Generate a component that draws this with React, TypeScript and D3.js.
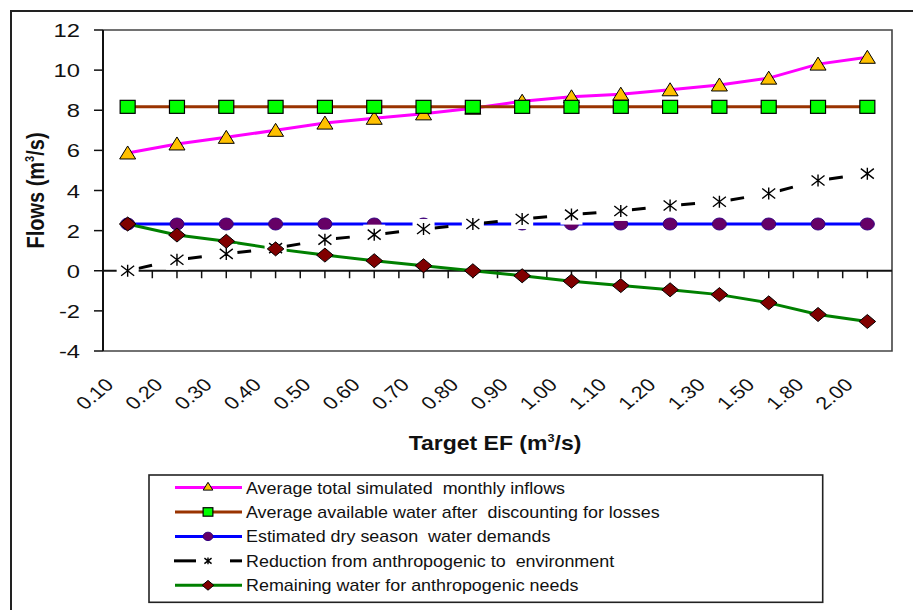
import React from "react";
import * as d3 from "d3";

const categories = ["0.10","0.20","0.30","0.40","0.50","0.60","0.70","0.80","0.90","1.00","1.10","1.20","1.30","1.50","1.80","2.00"];
const inflows = [5.87, 6.32, 6.65, 7.0, 7.36, 7.6, 7.82, 8.1, 8.45, 8.67, 8.8, 9.02, 9.26, 9.6, 10.3, 10.64];
const available = [8.17, 8.17, 8.17, 8.17, 8.17, 8.17, 8.17, 8.17, 8.17, 8.17, 8.17, 8.17, 8.17, 8.17, 8.17, 8.17];
const demands = [2.33, 2.33, 2.33, 2.33, 2.33, 2.33, 2.33, 2.33, 2.33, 2.33, 2.33, 2.33, 2.33, 2.33, 2.33, 2.33];
const reduction = [0, 0.55, 0.84, 1.13, 1.55, 1.8, 2.08, 2.33, 2.58, 2.8, 2.98, 3.25, 3.44, 3.85, 4.5, 4.84];
const remaining = [2.33, 1.78, 1.47, 1.09, 0.78, 0.5, 0.25, 0, -0.25, -0.52, -0.74, -0.95, -1.19, -1.6, -2.18, -2.53];
const yTicks = [-4, -2, 0, 2, 4, 6, 8, 10, 12];
const legendLabels = [
  "Average total simulated  monthly inflows",
  "Average available water after  discounting for losses",
  "Estimated dry season  water demands",
  "Reduction from anthropogenic to  environment",
  "Remaining water for anthropogenic needs",
];

const FONT = "Arial, 'Liberation Sans', sans-serif";
const SX = 1.15;

const left = 103, right = 892, top = 30, bottom = 351;

function Triangle({ x, y, s = 1 }: { x: number; y: number; s?: number }) {
  return <path d={`M${x},${y - 7 * s}L${x + 8 * s},${y + 6 * s}L${x - 8 * s},${y + 6 * s}Z`} fill="#FFC000" stroke="#000" strokeWidth={1} />;
}
function Square({ x, y, s = 1 }: { x: number; y: number; s?: number }) {
  return <rect x={x - 7.5 * s} y={y - 6.5 * s} width={15 * s} height={13 * s} fill="#00FF00" stroke="#000" strokeWidth={1.2} />;
}
function Circle({ x, y, s = 1 }: { x: number; y: number; s?: number }) {
  return <ellipse cx={x} cy={y} rx={7 * s} ry={6 * s} fill="#660066" stroke="#330080" strokeWidth={1} />;
}
function Diamond({ x, y, s = 1 }: { x: number; y: number; s?: number }) {
  return <path d={`M${x},${y - 7 * s}L${x + 8.3 * s},${y}L${x},${y + 7 * s}L${x - 8.3 * s},${y}Z`} fill="#800000" stroke="#000" strokeWidth={1} />;
}
function Star({ x, y, s = 1, box = true }: { x: number; y: number; s?: number; box?: boolean }) {
  return (
    <g>
      {box && <rect x={x - 11} y={y - 10} width={22} height={20} fill="#fff" />}
      <path
        d={`M${x},${y - 6 * s}L${x},${y + 6 * s}M${x - 6.5 * s},${y - 5 * s}L${x + 6.5 * s},${y + 5 * s}M${x - 6.5 * s},${y + 5 * s}L${x + 6.5 * s},${y - 5 * s}`}
        stroke="#000"
        strokeWidth={1.4}
        fill="none"
      />
    </g>
  );
}

export default function App() {
  const x = d3.scalePoint<string>().domain(categories).range([left, right]).padding(0.5);
  const y = d3.scaleLinear().domain([-4, 12]).range([bottom, top]);
  const step = x.step();
  const line = d3
    .line<number>()
    .x((_, i) => x(categories[i]) as number)
    .y((d) => y(d));

  const halfTicks: number[] = [];
  for (let i = 0; i < categories.length; i++) {
    const c = x(categories[i]) as number;
    halfTicks.push(c);
    if (i < categories.length - 1) halfTicks.push(c + step / 2);
  }

  const pts = (arr: number[]) => arr.map((v, i) => ({ x: x(categories[i]) as number, y: y(v) }));

  const redPts = pts(reduction);

  const legY = (i: number) => 487.5 + i * 24.45;
  const lx0 = 175, lx1 = 242, lmx = 208, ltx = 246;

  return (
    <svg width={913} height={610} style={{ position: "absolute", left: 0, top: 0, background: "#fff" }} fontFamily={FONT}>
      <rect x={0} y={0} width={913} height={610} fill="#fff" />
      {/* outer frame */}
      <path d="M11,612V11H915" fill="none" stroke="#222" strokeWidth={2} />

      {/* plot area border */}
      <path d={`M${left},${top}H${right}V${bottom}H${left}`} fill="none" stroke="#444" strokeWidth={1.6} />

      {/* y axis */}
      <line x1={left} x2={left} y1={top} y2={bottom} stroke="#111" strokeWidth={2} />
      {yTicks.map((t) => (
        <g key={t}>
          <line x1={94} x2={left} y1={y(t)} y2={y(t)} stroke="#111" strokeWidth={1.5} />
          <text transform={`translate(80,${y(t) + 7}) scale(${SX + 0.1},1)`} textAnchor="end" fontSize={19} fill="#111">
            {String(t)}
          </text>
        </g>
      ))}

      {/* x axis at zero */}
      <line x1={left} x2={right} y1={y(0)} y2={y(0)} stroke="#111" strokeWidth={2} />
      {halfTicks.map((t, i) => (
        <line key={i} x1={t} x2={t} y1={y(0)} y2={y(0) + 7.5} stroke="#111" strokeWidth={1.5} />
      ))}

      {/* x labels */}
      {categories.map((c) => (
        <text
          key={c}
          transform={`translate(${(x(c) as number) - 13},386) scale(${SX + 0.05},1) rotate(-45)`}
          textAnchor="end"
          fontSize={18}
          fill="#111"
        >
          {c}
        </text>
      ))}

      {/* axis titles */}
      <text transform={`translate(43.5,190.5) scale(${SX},1) rotate(-90)`} textAnchor="middle" fontSize={20} fontWeight="bold" fill="#111">
        Flows (m<tspan fontSize={11} dy={-8}>3</tspan>
        <tspan dy={8}>/s)</tspan>
      </text>
      <text transform={`translate(495,450) scale(${SX},1)`} textAnchor="middle" fontSize={20} fontWeight="bold" fill="#111">
        Target EF (m<tspan fontSize={11} dy={-8}>3</tspan>
        <tspan dy={8}>/s)</tspan>
      </text>

      {/* series lines */}
      <path d={line(inflows) || ""} fill="none" stroke="#FF00FF" strokeWidth={3} />
      <path d={line(available) || ""} fill="none" stroke="#993300" strokeWidth={3} />
      <path d={line(demands) || ""} fill="none" stroke="#0000FF" strokeWidth={3} />
      {redPts.slice(0, -1).map((p, i) => (
        <line
          key={i}
          x1={p.x}
          y1={p.y}
          x2={redPts[i + 1].x}
          y2={redPts[i + 1].y}
          stroke="#000"
          strokeWidth={3}
          strokeDasharray="14 1000"
          strokeDashoffset={-11}
        />
      ))}
      <path d={line(remaining) || ""} fill="none" stroke="#008000" strokeWidth={3} />

      {/* markers */}
      {pts(inflows).map((p, i) => <Triangle key={i} x={p.x} y={p.y} />)}
      {pts(available).map((p, i) => <Square key={i} x={p.x} y={p.y} />)}
      {pts(demands).map((p, i) => <Circle key={i} x={p.x} y={p.y} />)}
      {redPts.map((p, i) => <Star key={i} x={p.x} y={p.y} />)}
      {pts(remaining).map((p, i) => <Diamond key={i} x={p.x} y={p.y} />)}

      {/* legend */}
      <rect x={149} y={475} width={673.7} height={127.3} fill="#fff" stroke="#222" strokeWidth={1.6} />
      {legendLabels.map((lab, i) => {
        const cy = legY(i);
        const colors = ["#FF00FF", "#993300", "#0000FF", "#000", "#008000"];
        return (
          <g key={i}>
            {i === 3 ? (
              <g>
                <line x1={lx0 - 1} x2={196} y1={cy} y2={cy} stroke="#000" strokeWidth={3} />
                <line x1={230} x2={lx1} y1={cy} y2={cy} stroke="#000" strokeWidth={3} />
                <Star x={lmx} y={cy} s={0.55} box={false} />
              </g>
            ) : (
              <line x1={lx0} x2={lx1} y1={cy} y2={cy} stroke={colors[i]} strokeWidth={3} />
            )}
            {i === 0 && <Triangle x={lmx} y={cy - 1} s={0.6} />}
            {i === 1 && <Square x={lmx} y={cy} s={0.65} />}
            {i === 2 && <Circle x={lmx} y={cy} s={0.7} />}
            {i === 4 && <Diamond x={lmx} y={cy} s={0.7} />}
            <text transform={`translate(${ltx},${cy + 6}) scale(1.12,1)`} fontSize={16} fill="#111" style={{ whiteSpace: "pre" }}>
              {lab}
            </text>
          </g>
        );
      })}
    </svg>
  );
}
